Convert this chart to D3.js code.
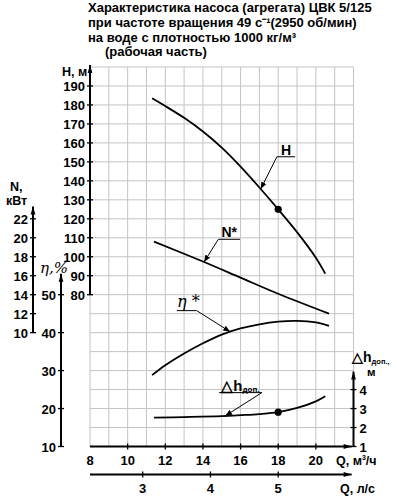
<!DOCTYPE html>
<html>
<head>
<meta charset="utf-8">
<script src="https://cdn.jsdelivr.net/npm/d3@7"></script>
<style>
body { margin: 0; background: #fff; }
text { font-family: "Liberation Sans", Arial, sans-serif; font-weight: bold; fill: #000; }
</style>
</head>
<body>
<div class="chart"></div>
<script>
const width = 397;
const height = 500;

// title lines
const titleLines = [
    'Характеристика насоса (агрегата) ЦВК 5/125',
    'при частоте вращения 49 с⁻¹(2950 об/мин)',
    'на воде с плотностью 1000 кг/м³',
    '(рабочая часть)'
];

// axis ticks
const qTicks = [10, 12, 14, 16, 18, 20];
const qLabels = [8, 10, 12, 14, 16, 18, 20];
const qlsTicks = [3, 4, 5];
const hTicks = [80, 90, 100, 110, 120, 130, 140, 150, 160, 170, 180, 190];
const nTicks = [10, 12, 14, 16, 18, 20, 22];
const etaTicks = [10, 20, 30, 40, 50];
const dhTicks = [1, 2, 3, 4];

// curves (Q in m3/h)
const qH = [11.3, 12, 13, 14, 15, 16, 17, 18, 19, 20, 20.5];
const hVals = [183.5, 179.4, 173.2, 166, 157.5, 147.5, 136.5, 125, 113, 99.5, 91.1];

const qN = [11.4, 14, 16, 18, 20.7];
const nVals = [19.6, 17.5, 15.8, 14.1, 12.0];

const qEta = [11.3, 12, 13, 14, 15, 16, 17, 18, 19, 20, 20.7];
const etaVals = [28.8, 31.4, 34.5, 37.2, 39.5, 41.1, 42.2, 42.9, 43.1, 42.7, 41.8];

const qDh = [11.4, 13, 15, 16, 17, 18, 19, 20, 20.5];
const dhVals = [2.52, 2.55, 2.6, 2.65, 2.71, 2.81, 3.03, 3.38, 3.65];

// marked duty point
const qDuty = 18;

const svg = d3.select('.chart').append('svg')
    .attr('width', width)
    .attr('height', height);

const defs = svg.append('defs');
defs.append('marker')
    .attr('id', 'arr')
    .attr('viewBox', '0 0 10 10')
    .attr('refX', 10).attr('refY', 5)
    .attr('markerWidth', 7).attr('markerHeight', 7)
    .attr('markerUnits', 'userSpaceOnUse')
    .attr('orient', 'auto')
    .append('path').attr('d', 'M0,1 L10,5 L0,9 Z').attr('fill', '#000');
defs.append('marker')
    .attr('id', 'axarr')
    .attr('viewBox', '0 0 10 10')
    .attr('refX', 10).attr('refY', 5)
    .attr('markerWidth', 10).attr('markerHeight', 8)
    .attr('markerUnits', 'userSpaceOnUse')
    .attr('orient', 'auto')
    .append('path').attr('d', 'M0,2 L10,5 L0,8 Z').attr('fill', '#000');

// scales
const x = d3.scaleLinear().domain([8, 22]).range([90, 353.5]);
const yH = d3.scaleLinear().domain([0, 200]).range([446.5, 67]);
const yN = d3.scaleLinear().domain([10, 22]).range([yH(60), yH(120)]);
const yEta = d3.scaleLinear().domain([10, 50]).range([yH(0), yH(80)]);
const yDh = d3.scaleLinear().domain([1, 4]).range([yH(0), yH(30)]);
const xLs = d3.scaleLinear().domain([8 / 3.6, 22 / 3.6]).range(x.range());

// title
svg.append('g').selectAll('text')
    .data(titleLines)
    .enter().append('text')
    .attr('x', (d, i) => i == 3 ? 105 : 88)
    .attr('y', (d, i) => 12 + i * 14.8)
    .style('font-size', '13px')
    .text(d => d);

// grid
const grid = svg.append('g').attr('stroke', '#c4c4c4').attr('stroke-width', 1);
grid.selectAll('line.v')
    .data(d3.range(8, 23))
    .enter().append('line')
    .attr('x1', d => x(d)).attr('x2', d => x(d))
    .attr('y1', yH(200)).attr('y2', yH(0));
grid.selectAll('line.h')
    .data(d3.range(0, 201, 10))
    .enter().append('line')
    .attr('x1', x(8)).attr('x2', x(22))
    .attr('y1', d => yH(d)).attr('y2', d => yH(d));

// vertical axis helper
function vAxis(scale, xpos, ticks, from, to, labelSide) {
    const g = svg.append('g');
    g.append('line')
        .attr('x1', xpos).attr('x2', xpos)
        .attr('y1', scale(from)).attr('y2', scale(to))
        .attr('stroke', '#000').attr('stroke-width', 2)
        .attr('marker-end', 'url(#axarr)');
    g.selectAll('line.t')
        .data(ticks)
        .enter().append('line')
        .attr('x1', xpos - 3).attr('x2', xpos + 3)
        .attr('y1', d => scale(d)).attr('y2', d => scale(d))
        .attr('stroke', '#000').attr('stroke-width', 1.3);
    g.selectAll('text')
        .data(ticks)
        .enter().append('text')
        .attr('x', labelSide < 0 ? xpos - 5 : xpos + 6)
        .attr('y', d => scale(d) + 5)
        .attr('text-anchor', labelSide < 0 ? 'end' : 'start')
        .style('font-size', '13px')
        .text(d => d);
    return g;
}

vAxis(yH, x(8), hTicks, 80, 201, -1);
vAxis(yN, 33, nTicks, 10, 23.3, -1);
vAxis(yEta, 61, etaTicks, 10, 55.5, -1);
vAxis(yDh, x(22), dhTicks, 1, 4.95, 1);

// axis titles
svg.append('text').attr('x', 62).attr('y', 76).style('font-size', '12.5px').text('H, м');
svg.append('text').attr('x', 10).attr('y', 191).style('font-size', '12.5px').text('N,');
svg.append('text').attr('x', 6).attr('y', 205).style('font-size', '12.5px').text('кВт');
svg.append('text').attr('x', 40).attr('y', 273)
    .style('font-size', '15px').style('font-weight', 'normal').style('font-family', '"DejaVu Serif", serif')
    .style('font-style', 'italic').text('η,%');
const dhT = svg.append('text').attr('x', 352).attr('y', 362).style('font-size', '14px');
dhT.append('tspan').text('△h');
dhT.append('tspan').attr('dy', 2).style('font-size', '7.5px').text('доп.,');
svg.append('text').attr('x', 367).attr('y', 376).style('font-size', '11.5px').text('м');

// Q axis m3/h
const xa = svg.append('g');
xa.append('line')
    .attr('x1', x(8)).attr('x2', x(21.9))
    .attr('y1', yH(0)).attr('y2', yH(0))
    .attr('stroke', '#000').attr('stroke-width', 2)
    .attr('marker-end', 'url(#axarr)');
xa.selectAll('line.t')
    .data(qTicks)
    .enter().append('line')
    .attr('x1', d => x(d)).attr('x2', d => x(d))
    .attr('y1', yH(0) - 3).attr('y2', yH(0) + 3)
    .attr('stroke', '#000').attr('stroke-width', 1.3);
xa.selectAll('text')
    .data(qLabels)
    .enter().append('text')
    .attr('x', d => x(d)).attr('y', 465)
    .attr('text-anchor', 'middle')
    .style('font-size', '13px')
    .text(d => d);
const qt = svg.append('text').attr('x', 336).attr('y', 465).style('font-size', '12.5px');
qt.append('tspan').text('Q, м');
qt.append('tspan').attr('dy', -5).style('font-size', '7px').text('3');
qt.append('tspan').attr('dy', 5).text('/ч');

// Q axis l/s
const xl = svg.append('g');
xl.append('line')
    .attr('x1', x(8)).attr('x2', x(21.9))
    .attr('y1', 474.5).attr('y2', 474.5)
    .attr('stroke', '#000').attr('stroke-width', 2)
    .attr('marker-end', 'url(#axarr)');
xl.selectAll('line.t')
    .data(qlsTicks)
    .enter().append('line')
    .attr('x1', d => xLs(d)).attr('x2', d => xLs(d))
    .attr('y1', 471.5).attr('y2', 477.5)
    .attr('stroke', '#000').attr('stroke-width', 1.3);
xl.selectAll('text')
    .data(qlsTicks)
    .enter().append('text')
    .attr('x', d => xLs(d)).attr('y', 493)
    .attr('text-anchor', 'middle')
    .style('font-size', '13px')
    .text(d => d);
svg.append('text').attr('x', 340).attr('y', 493).style('font-size', '12.5px').text('Q, л/с');

// curves
function curve(qs, vs, ys) {
    const pts = qs.map((q, i) => [x(q), ys(vs[i])]);
    svg.append('path')
        .attr('d', d3.line().curve(d3.curveCatmullRom.alpha(0.5))(pts))
        .attr('fill', 'none')
        .attr('stroke', '#000')
        .attr('stroke-width', 1.8);
}
curve(qH, hVals, yH);
curve(qN, nVals, yN);
curve(qEta, etaVals, yEta);
curve(qDh, dhVals, yDh);

// duty points
const hAt = d3.scaleLinear().domain(qH).range(hVals);
const dhAt = d3.scaleLinear().domain(qDh).range(dhVals);
const nAt = d3.scaleLinear().domain(qN).range(nVals);
const etaAt = d3.scaleLinear().domain(qEta).range(etaVals);
svg.append('circle').attr('cx', x(qDuty)).attr('cy', yH(hAt(qDuty))).attr('r', 3.6);
svg.append('circle').attr('cx', x(qDuty)).attr('cy', yDh(dhAt(qDuty))).attr('r', 3.6);

// leader labels: underline from q1 to q2 at level v, pointer to curve at qPt
function leader(ys, at, q1, q2, v, qPt) {
    svg.append('line')
        .attr('x1', x(q1)).attr('x2', x(q2))
        .attr('y1', ys(v)).attr('y2', ys(v))
        .attr('stroke', '#000').attr('stroke-width', 1);
    const sx = qPt < q1 ? x(q1) : x(q2);
    svg.append('line')
        .attr('x1', sx).attr('y1', ys(v))
        .attr('x2', x(qPt)).attr('y2', ys(at(qPt)))
        .attr('stroke', '#000').attr('stroke-width', 1)
        .attr('marker-end', 'url(#arr)');
}
leader(yH, hAt, 17.93, 18.9, 152.7, 17.07);
svg.append('text').attr('x', x(18.42)).attr('y', yH(152.7) - 2)
    .attr('text-anchor', 'middle').style('font-size', '14px').text('H');

leader(yN, nAt, 14.82, 15.97, 19.84, 14.06);
svg.append('text').attr('x', x(15.4)).attr('y', yN(19.84) - 2)
    .attr('text-anchor', 'middle').style('font-size', '14px').text('N*');

leader(yEta, etaAt, 12.61, 13.67, 45.8, 15.45);
svg.append('text').attr('x', x(12.62)).attr('y', yEta(45.8) - 4)
    .style('font-size', '16px').style('font-weight', 'normal').style('font-family', '"DejaVu Serif", serif')
    .style('font-style', 'italic').text('η *');

leader(yDh, dhAt, 14.86, 17.13, 3.84, 15.18);
const dl = svg.append('text').attr('x', x(14.98)).attr('y', yDh(3.84) - 2).style('font-size', '15px');
dl.append('tspan').text('△h');
dl.append('tspan').attr('dy', 1).style('font-size', '8px').text('доп.');
</script>
</body>
</html>
